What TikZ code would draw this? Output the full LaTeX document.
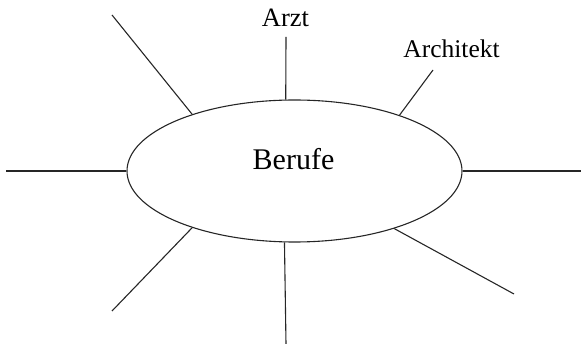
\documentclass[tikz,border=0pt]{standalone}
\usepackage{fontspec}
\setmainfont{Liberation Serif}
\usetikzlibrary{shapes.geometric}
\begin{document}
\begin{tikzpicture}[x=1pt,y=-1pt,
  spoke/.style={line width=1.1pt,black!85},
  lbl/.style={inner sep=0pt,anchor=base,font=\fontsize{26.5}{30}\selectfont}]
\useasboundingbox (0,0) rectangle (581,344);
\node[ellipse,draw,line width=1.1pt,black!85,minimum width=335pt,minimum height=142pt,inner sep=0pt] (e) at (294.5,171) {};
\node[lbl,font=\fontsize{30}{34}\selectfont] (b) at (293.5,170) {Berufe};
\node[lbl] (arzt) at (285.5,27) {Arzt};
\node[lbl,font=\fontsize{25.5}{30}\selectfont] (arch) at (451.5,58) {Architekt};
\coordinate (pT) at (286,37);
\coordinate (pTL) at (112,15);
\coordinate (pTR) at (433,70);
\coordinate (pL) at (6,171);
\coordinate (pR) at (581,171);
\coordinate (pBL) at (112,311);
\coordinate (pB) at (286,344);
\coordinate (pBR) at (514,294);
\draw[spoke] (pT) -- (e.97.2);
\draw[spoke] (pTL) -- (e.151.6);
\draw[spoke] (pTR) -- (e.28.6);
\draw[spoke] (pL) -- (e.180);
\draw[spoke] (pR) -- (e.0);
\draw[spoke] (pBL) -- (e.209.1);
\draw[spoke] (pB) -- (e.262.8);
\draw[spoke] (pBR) -- (e.330.9);
\end{tikzpicture}
\end{document}
